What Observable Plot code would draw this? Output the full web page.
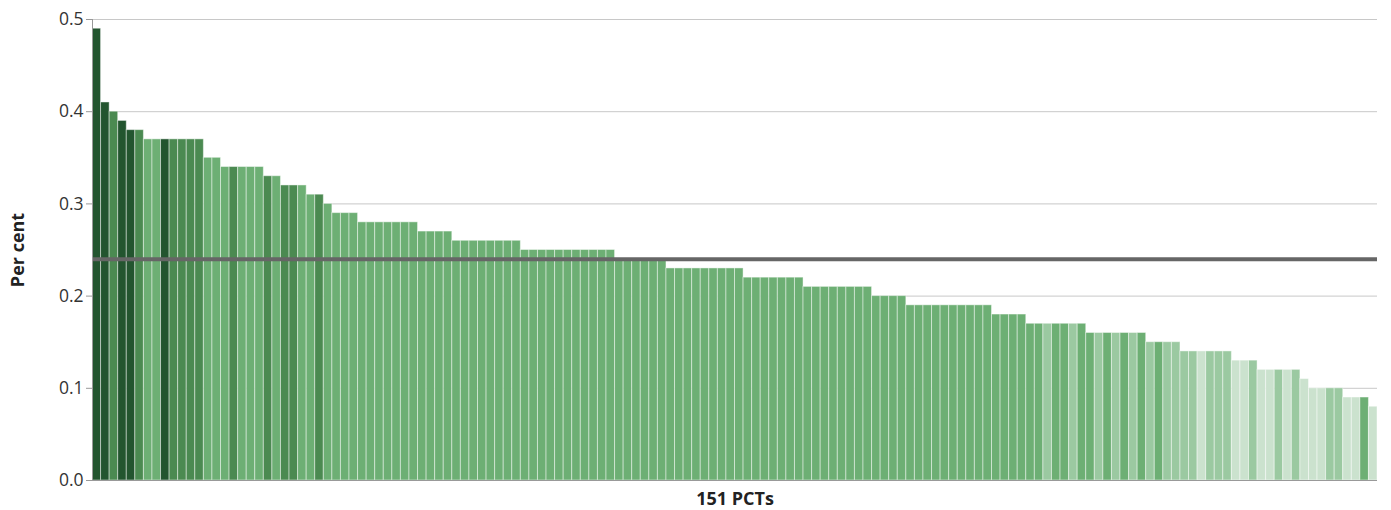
<!DOCTYPE html>
<html>
<head>
<meta charset="utf-8">
<script src="https://cdn.jsdelivr.net/npm/d3@7"></script>
<script src="https://cdn.jsdelivr.net/npm/@observablehq/plot@0.6"></script>
<style>
  html, body { margin: 0; padding: 0; background: #fff; }
  #chart svg { display: block; }
</style>
</head>
<body>
<div id="chart"></div>
<script>
// Values per PCT (sorted descending), in per cent
const values = [
  0.49, 0.41, 0.40, 0.39, 0.38, 0.38,
  0.37, 0.37, 0.37, 0.37, 0.37, 0.37, 0.37,
  0.35, 0.35,
  0.34, 0.34, 0.34, 0.34, 0.34,
  0.33, 0.33,
  0.32, 0.32, 0.32,
  0.31, 0.31,
  0.30,
  0.29, 0.29, 0.29,
  0.28, 0.28, 0.28, 0.28, 0.28, 0.28, 0.28,
  0.27, 0.27, 0.27, 0.27,
  0.26, 0.26, 0.26, 0.26, 0.26, 0.26, 0.26, 0.26,
  0.25, 0.25, 0.25, 0.25, 0.25, 0.25, 0.25, 0.25, 0.25, 0.25, 0.25,
  0.24, 0.24, 0.24, 0.24, 0.24, 0.24,
  0.23, 0.23, 0.23, 0.23, 0.23, 0.23, 0.23, 0.23, 0.23,
  0.22, 0.22, 0.22, 0.22, 0.22, 0.22, 0.22,
  0.21, 0.21, 0.21, 0.21, 0.21, 0.21, 0.21, 0.21,
  0.20, 0.20, 0.20, 0.20,
  0.19, 0.19, 0.19, 0.19, 0.19, 0.19, 0.19, 0.19, 0.19, 0.19,
  0.18, 0.18, 0.18, 0.18,
  0.17, 0.17, 0.17, 0.17, 0.17, 0.17, 0.17,
  0.16, 0.16, 0.16, 0.16, 0.16, 0.16, 0.16,
  0.15, 0.15, 0.15, 0.15,
  0.14, 0.14, 0.14, 0.14, 0.14, 0.14,
  0.13, 0.13, 0.13,
  0.12, 0.12, 0.12, 0.12, 0.12,
  0.11,
  0.10, 0.10, 0.10, 0.10,
  0.09, 0.09, 0.09,
  0.08
];

// Shade group of each bar: d=dark, m=medium, s=standard, l=light, v=very light
const shades = [
  "d","d","m","d","d","m",
  "s","s","d","m","m","m","m",
  "s","s",
  "s","m","s","s","s",
  "m","s",
  "m","m","s",
  "s","m",
  "s",
  "s","s","s",
  "s","s","s","s","s","s","s",
  "s","s","s","s",
  "s","s","s","s","s","s","s","s",
  "s","s","s","s","s","s","s","s","s","s","s",
  "s","s","s","s","s","s",
  "s","s","s","s","s","s","s","s","s",
  "s","s","s","s","s","s","s",
  "s","s","s","s","s","s","s","s",
  "s","s","s","s",
  "s","s","s","s","s","s","s","s","s","s",
  "s","s","s","s",
  "s","s","l","s","s","l","s",
  "s","l","s","l","s","l","s",
  "l","s","l","l",
  "l","l","v","l","l","l",
  "v","v","l",
  "v","v","l","v","l",
  "v",
  "v","v","l","l",
  "v","v","s",
  "v"
];

const shadeKeys = ["d", "m", "s", "l", "v"];
const shadeColors = ["#23552f", "#4b8a51", "#6daf74", "#9bc9a1", "#cbe2ce"];

const meanValue = [0.24];
const yTicks = [0, 0.1, 0.2, 0.3, 0.4, 0.5];
const xLabel = "151 PCTs";
const yLabel = "Per cent";

const data = values.map((v, i) => ({i, v, shade: shades[i]}));

const chart = Plot.plot({
  width: 1391,
  height: 510,
  marginLeft: 92,
  marginRight: 14,
  marginTop: 19,
  marginBottom: 30,
  style: {fontFamily: "'Open Sans', sans-serif", fontSize: "17.5px", color: "#333", background: "#fff"},
  x: {type: "band", domain: d3.range(values.length), padding: 0, axis: null},
  y: {domain: [0, 0.5], axis: null},
  color: {domain: shadeKeys, range: shadeColors},
  marks: [
    Plot.gridY(yTicks, {stroke: "#c8c8c8", strokeOpacity: 1}),
    Plot.barY(data, {x: "i", y: "v", fill: "shade", stroke: "white", strokeOpacity: 0.45, strokeWidth: 1}),
    Plot.ruleY(meanValue, {stroke: "#666", strokeWidth: 4}),
    Plot.ruleY([0], {stroke: "#999"}),
    Plot.frame({anchor: "left", stroke: "#999"}),
    Plot.axisY(yTicks, {tickSize: 6, tickPadding: 3, stroke: "#999", fill: "#333", tickFormat: d3.format(".1f"), label: null, fontSize: 17.5}),
    Plot.text([yLabel], {frameAnchor: "left", rotate: -90, dx: -74, textAnchor: "middle", fontWeight: "bold", fontSize: 18, fill: "#222"}),
    Plot.text([xLabel], {frameAnchor: "bottom", dy: 19, lineAnchor: "middle", fontWeight: "bold", fontSize: 18, fill: "#222"})
  ]
});

document.getElementById("chart").appendChild(chart);
</script>
</body>
</html>
